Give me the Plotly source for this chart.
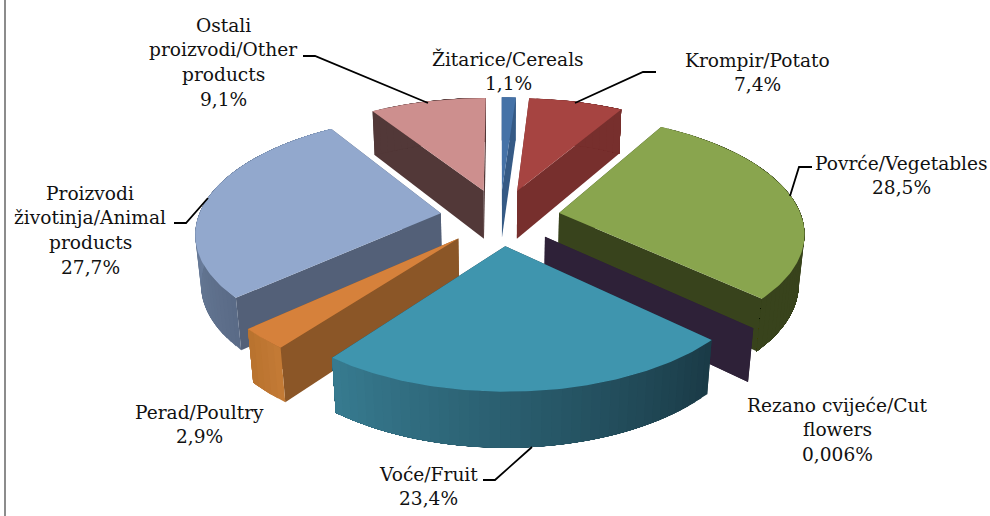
import math
import plotly.graph_objects as go

# ---- data ----
categories = ["Žitarice/Cereals", "Krompir/Potato", "Povrće/Vegetables", "Rezano cvijeće/Cut flowers",
              "Voće/Fruit", "Perad/Poultry", "Proizvodi životinja/Animal products", "Ostali proizvodi/Other products"]
values = [1.1, 7.4, 28.5, 0.006, 23.4, 2.9, 27.7, 9.1]

# ---- style ----
top_colors = ["#4572A7", "#A64441", "#89A54E", "#2E2138", "#3F95AE", "#D6813B", "#92A8CD", "#CD8F8E"]
radial_colors = ["#355A85", "#772F2D", "#38431C", "#2E2138", "#1A3A46", "#8B5627", "#536078", "#523838"]
outer_start = ["#355A85", "#772F2D", "#38431C", "#2E2138", "#1A3A46", "#C47B36", "#5A6B86", "#523838"]
outer_end = ["#355A85", "#772F2D", "#38431C", "#2E2138", "#377B90", "#B8722E", "#8198BA", "#523838"]
draw_order = [7, 1, 0, 6, 2, 3, 5, 4]

label_lines = [["Žitarice/Cereals"], ["Krompir/Potato"], ["Povrće/Vegetables"], ["Rezano cvijeće/Cut", "flowers"],
               ["Voće/Fruit"], ["Perad/Poultry"], ["Proizvodi", "životinja/Animal", "products"],
               ["Ostali", "proizvodi/Other", "products"]]
label_center = [(508, 59), (757, 60), (901, 163), (837, 405), (428, 474), (199, 412), (90, 193), (223, 25)]
line_step = 24.7
leaders = [None,
           [(575, 103), (643, 72), (656, 72)],
           [(790, 196), (799, 167), (812, 167)],
           None,
           [(532, 447), (495, 480), (483, 480)],
           None,
           [(208, 198), (186, 223), (174, 223)],
           [(428, 103), (315, 56), (303, 56)]]

# ---- projection of the 3-D pie ----
CX, CY, R = 500.0, 217.0, 242.5
TILT = math.asin(0.470)
CAM = 5.89
PULL = 0.2474
DEPTH = 0.233


def project(u, v, h):
    d = CAM + v * math.cos(TILT) + h * math.sin(TILT)
    s = CAM / d
    return CX + R * u * s, CY - R * (v * math.sin(TILT) - h * math.cos(TILT)) * s


def lerp_color(a, b, f):
    ca = [int(a[i:i + 2], 16) for i in (1, 3, 5)]
    cb = [int(b[i:i + 2], 16) for i in (1, 3, 5)]
    return "rgb(%d,%d,%d)" % tuple(round(x + (y - x) * f) for x, y in zip(ca, cb))


def poly(fig, pts, color):
    xs = [p[0] for p in pts] + [pts[0][0]]
    ys = [p[1] for p in pts] + [pts[0][1]]
    fig.add_trace(go.Scatter(x=xs, y=ys, mode="lines", fill="toself", fillcolor=color,
                             line=dict(color=color, width=0), hoverinfo="skip", showlegend=False))


total = sum(values)
bounds = [0.0]
for val in values:
    bounds.append(bounds[-1] + val / total * 2 * math.pi)

fig = go.Figure()
for i in draw_order:
    a0, a1 = bounds[i], bounds[i + 1]
    mid = (a0 + a1) / 2
    ou, ov = PULL * math.sin(mid), PULL * math.cos(mid)

    def pt(a, h):
        return project(ou + math.sin(a), ov + math.cos(a), h)

    apex_t, apex_b = project(ou, ov, 0), project(ou, ov, DEPTH)
    # radial walls
    for a in sorted((a0, a1), key=lambda q: -math.cos(q)):
        poly(fig, [apex_t, pt(a, 0), pt(a, DEPTH), apex_b], radial_colors[i])
    # outer wall, in strips that overlap so that the shading changes smoothly along the arc
    n = max(1, int((a1 - a0) / math.radians(2)))
    for k in range(n):
        b0 = a0 + (a1 - a0) * k / n
        steps = [b0 + (a1 - b0) * j / 12 for j in range(13)]
        strip = [pt(b, 0) for b in steps] + [pt(b, DEPTH) for b in reversed(steps)]
        poly(fig, strip, lerp_color(outer_start[i], outer_end[i], (k + 0.5) / n))
    # top face
    n = max(2, int((a1 - a0) / math.radians(1)))
    arc = [pt(a0 + (a1 - a0) * k / n, 0) for k in range(n + 1)]
    if a1 - a0 > 0.002:
        poly(fig, [apex_t] + arc, top_colors[i])

# leader lines
for lead in leaders:
    if lead:
        fig.add_trace(go.Scatter(x=[p[0] for p in lead], y=[p[1] for p in lead], mode="lines",
                                 line=dict(color="#000000", width=1.8), hoverinfo="skip", showlegend=False))

# labels
annotations = []
for lines, val, (x, y) in zip(label_lines, values, label_center):
    all_lines = lines + [f"{val:g}".replace(".", ",") + "%"]
    for k, txt in enumerate(all_lines):
        annotations.append(dict(x=x, y=y + k * line_step, text=txt, showarrow=False, xref="x", yref="y",
                                xanchor="center", yanchor="middle",
                                font=dict(family="DejaVu Serif", size=18.6, color="#111111")))

fig.update_layout(
    width=990, height=516, margin=dict(l=0, r=0, t=0, b=0),
    paper_bgcolor="white", plot_bgcolor="white", showlegend=False,
    xaxis=dict(range=[0, 990], visible=False, fixedrange=True),
    yaxis=dict(range=[516, 0], visible=False, fixedrange=True),
    annotations=annotations,
    shapes=[dict(type="line", xref="x", yref="y", x0=5, x1=5, y0=0, y1=516,
                 line=dict(color="#8C8C8C", width=2))],
)
fig.write_html("out.html", config={"displayModeBar": False},
               post_script="document.body.style.margin='0';document.documentElement.style.overflow='hidden';")
